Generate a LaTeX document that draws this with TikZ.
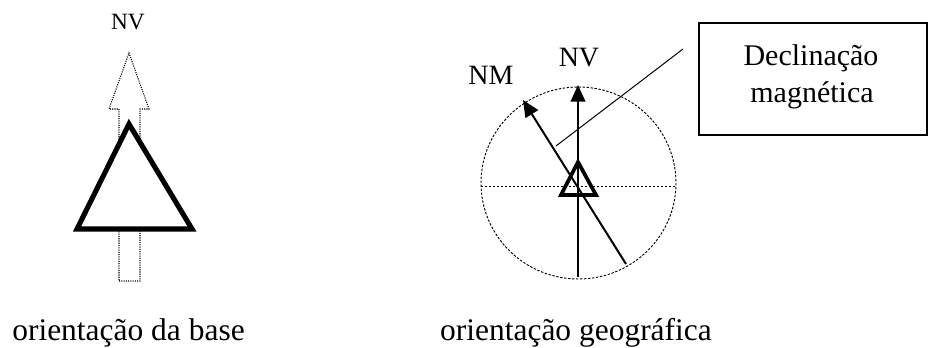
\documentclass[tikz,border=0pt]{standalone}
\usepackage{fontspec}
\setmainfont{Liberation Serif}
\usetikzlibrary{arrows.meta}
\begin{document}
\begin{tikzpicture}[x=0.75pt,y=-0.75pt,
  capt/.style={anchor=base,inner sep=0pt,font=\fontsize{23.6}{28}\selectfont},
  lblsmall/.style={anchor=base,inner sep=0pt,font=\fontsize{17.5}{21}\selectfont},
  lbl/.style={anchor=base,inner sep=0pt,font=\fontsize{21}{25}\selectfont},
  boxtxt/.style={anchor=base,inner sep=0pt,font=\fontsize{22.5}{27}\selectfont},
  dotout/.style={line width=0.8pt,dash pattern=on 0.8pt off 0.9pt},
  dashthin/.style={line width=0.7pt,dash pattern=on 1.8pt off 1.2pt},
  bigtri/.style={line width=3.8pt,fill=white,line join=miter},
  smalltri/.style={line width=2.8pt,line join=miter},
  northarrow/.style={line width=1.5pt,-{Triangle[length=12.5pt,width=11pt]}},
  boxst/.style={draw,line width=0.9pt,minimum width=171pt,minimum height=84pt,inner sep=0pt}]
\useasboundingbox (0,0) rectangle (929,347);
% ---------- left figure ----------
\coordinate (a1) at (119,281);
\coordinate (a2) at (140,281);
\coordinate (a3) at (140,109);
\coordinate (a4) at (149,109);
\coordinate (a5) at (129,53);
\coordinate (a6) at (109,109);
\coordinate (a7) at (119,109);
\draw[dotout] (a1) -- (a2) -- (a3) -- (a4) -- (a5) -- (a6) -- (a7) -- cycle;
\coordinate (t1) at (129,124);
\coordinate (t2) at (192,229);
\coordinate (t3) at (77,229);
\draw[bigtri] (t1) -- (t2) -- (t3) -- cycle;
\node[lblsmall] (nvl) at (128,29) {NV};
\node[capt] (capl) at (128.5,340) {orientação da base};
% ---------- right figure ----------
\coordinate (c) at (578.5,183);
\draw[dashthin] (c) ellipse [x radius=97.5, y radius=96];
\coordinate (hl) at (481,186);
\coordinate (hr) at (676,186);
\draw[dashthin] (hl) -- (hr);
\coordinate (nvb) at (578,277);
\coordinate (nvt) at (578,85);
\draw[northarrow] (nvb) -- (nvt);
\coordinate (nmb) at (626,264);
\coordinate (nmt) at (523,100);
\draw[northarrow] (nmb) -- (nmt);
\coordinate (s1) at (578,162);
\coordinate (s2) at (596,195);
\coordinate (s3) at (561,195);
\draw[smalltri] (s1) -- (s2) -- (s3) -- cycle;
\coordinate (tl1) at (556,146);
\coordinate (tl2) at (683,49);
\draw[line width=0.75pt] (tl1) -- (tl2);
\node[lbl] (nvr) at (579,66) {NV};
\node[lbl] (nm) at (491,84) {NM};
\node[boxst] (box) at (813,79) {};
\node[boxtxt] (d1) at (811,65) {Declinação};
\node[boxtxt] (d2) at (812,102) {magnética};
\node[capt] (capr) at (576,340) {orientação geográfica};
\end{tikzpicture}
\end{document}
